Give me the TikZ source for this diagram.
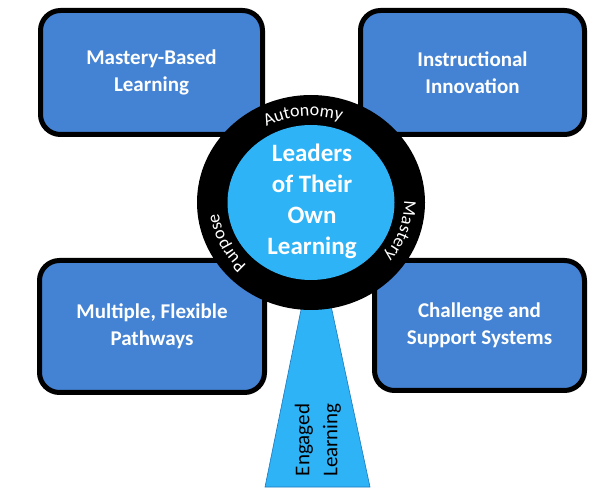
\documentclass[tikz,border=0pt]{standalone}
\usepackage{fontspec}
\setmainfont{Carlito}
\usetikzlibrary{decorations.text, calc}
\definecolor{boxblue}{RGB}{68,131,211}
\definecolor{skyblue}{RGB}{46,179,247}
\definecolor{edgeblue}{RGB}{28,120,190}
\newcommand{\ringfont}{\fontsize{18}{18}\selectfont}
\tikzset{
    pillar/.style = {
        draw=black, line width=5pt, fill=boxblue, rounded corners=20pt,
        text=white, font=\bfseries\fontsize{21}{27}\selectfont, align=center,
        inner sep=0pt
    },
    ringtext/.style = {
        decorate,
        decoration={text along path, text={|\ringfont|#1}, text align=center, text color=white}
    }
}

\begin{document}
\begin{tikzpicture}[x=1pt, y=1pt]
    \useasboundingbox (0,0) rectangle (607,487);
    \node[pillar, minimum width=222pt, minimum height=124pt] (mastery) at (151.5,414.5) {Mastery-Based\\Learning};
    \node[pillar, minimum width=224pt, minimum height=124pt] (innovation) at (472.5,414.5) {Instructional\\Innovation};
    \node[pillar, minimum width=225pt, minimum height=132pt] (pathways) at (152,160.5) {Multiple, Flexible\\Pathways};
    \node[pillar, minimum width=210pt, minimum height=130pt] (support) at (479.5,161.5) {Challenge and\\Support Systems};
    \fill[skyblue, draw=edgeblue, line width=0.6pt] (316,251) -- (265,0) -- (370,0) -- cycle;
    \node[rotate=90, align=center, font=\fontsize{21}{28}\selectfont] (engaged) at (318,47) {Engaged\\Learning};
    \coordinate (hub) at (311,284.5);
    \fill[black] (hub) ellipse [x radius=114, y radius=107.5];
    \fill[skyblue] (hub) ellipse [x radius=83.5, y radius=77.5];
    \path[ringtext=Autonomy] ($(hub)+(150:93 and 86.5)$) arc[start angle=150, end angle=40, x radius=93, y radius=86.5];
    \path[ringtext=Mastery] ($(hub)+(30:93 and 86.5)$) arc[start angle=30, end angle=-66, x radius=93, y radius=86.5];
    \path[ringtext=Purpose] ($(hub)+(254:93 and 86.5)$) arc[start angle=254, end angle=158, x radius=93, y radius=86.5];
    \node[text=white, align=center, font=\bfseries\fontsize{25}{31}\selectfont] (leaders) at (312,285.5) {Leaders\\of Their\\Own\\Learning};
\end{tikzpicture}
\end{document}
